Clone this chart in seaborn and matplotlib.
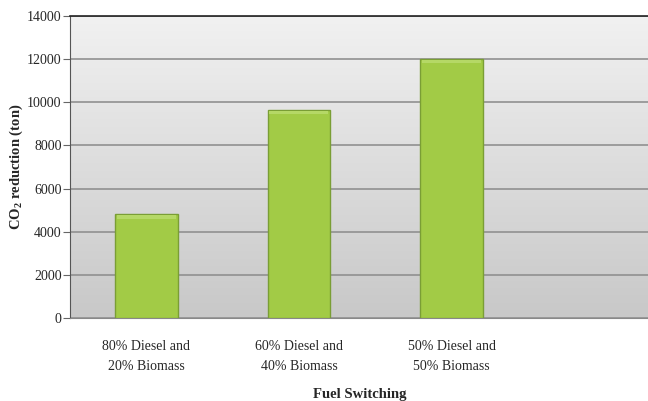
import numpy as np
import pandas as pd
import matplotlib
matplotlib.use("Agg")
import matplotlib.pyplot as plt
import seaborn as sns

categories = ["80% Diesel and\n20% Biomass", "60% Diesel and\n40% Biomass", "50% Diesel and\n50% Biomass"]
reduction = [4800, 9650, 12000]
yticks = [0, 2000, 4000, 6000, 8000, 10000, 12000, 14000]

sns.set_style("white")
plt.rcParams["font.family"] = ["Liberation Serif", "DejaVu Serif"]
plt.rcParams["mathtext.fontset"] = "custom"
plt.rcParams["mathtext.rm"] = "Liberation Serif"
plt.rcParams["mathtext.bf"] = "Liberation Serif:bold"

df = pd.DataFrame({"case": categories, "co2": reduction})

fig = plt.figure(figsize=(6.48, 4.01), dpi=100)
ax = fig.add_axes([0.108, 0.207, 0.895, 0.753])

# gray gradient background, light at the top, darker at the bottom
grad = np.linspace(0, 1, 256).reshape(-1, 1)
bg = matplotlib.colors.LinearSegmentedColormap.from_list("bg", ["#f1f1f1", "#c8c8c8"])
ax.imshow(grad, cmap=bg, aspect="auto", extent=(-0.5, 3.3, 0, 14000),
          zorder=0, origin="upper")

sns.barplot(df, x="case", y="co2", color="#a2cb46", width=0.41, saturation=1,
            edgecolor="#7a9e35", linewidth=1.0, ax=ax, zorder=3)

# soft bevel on bar tops
for p in ax.patches:
    x0, w, h = p.get_x(), p.get_width(), p.get_height()
    ax.fill_between([x0 + 0.012, x0 + w - 0.012], h - 200, h - 30,
                    color="#b5d866", zorder=4, lw=0)

ax.set_xlim(-0.5, 3.3)
ax.set_ylim(0, 14000)
ax.set_yticks(yticks)
ax.set_yticklabels([str(v) for v in yticks])
ax.yaxis.grid(True, color="#909090", lw=1.2, zorder=1)
ax.set_axisbelow(True)

ax.set_xticks([0.5, 1.5, 2.5], minor=True)
ax.tick_params(axis="x", which="minor", length=4, color="#999999")
ax.tick_params(axis="x", which="major", length=0, labelsize=10, pad=16)
ax.tick_params(axis="y", length=5, color="#666666", labelsize=10, left=True, pad=1)
for t in ax.get_xticklabels():
    t.set_linespacing(1.7)

ax.set_xlabel("Fuel Switching", fontsize=10.5, fontweight="bold", labelpad=11)
ax.set_ylabel(r"$\mathbf{CO_2}$ reduction (ton)", fontsize=10.5, fontweight="bold")
ax.yaxis.set_label_coords(-0.078, 0.5)

ax.spines["right"].set_visible(False)
ax.spines["top"].set_color("#222222")
ax.spines["top"].set_linewidth(1.2)
ax.spines["left"].set_color("#555555")
ax.spines["bottom"].set_color("#888888")

fig.savefig("out.png", dpi=100)
